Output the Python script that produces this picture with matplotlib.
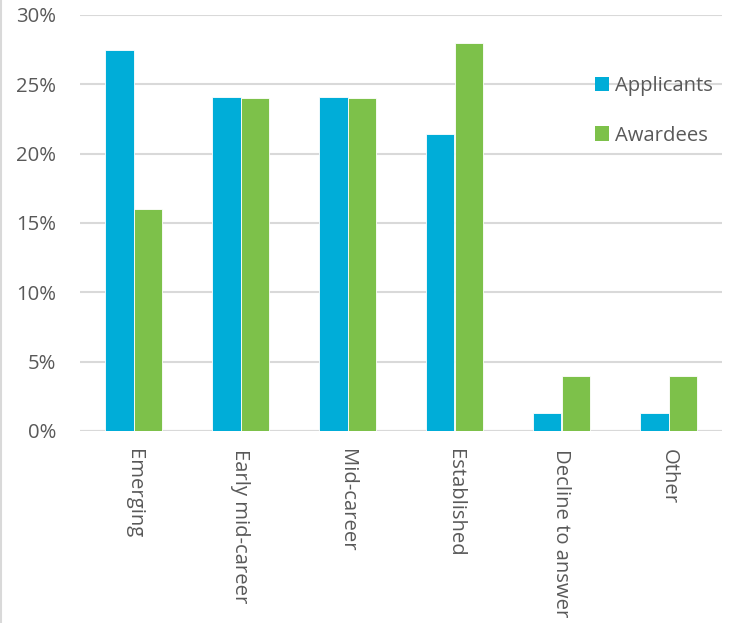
import matplotlib
matplotlib.use("Agg")
import matplotlib.pyplot as plt
from matplotlib.patches import Patch
from matplotlib.lines import Line2D
from matplotlib.ticker import FuncFormatter
import numpy as np

categories = ["Emerging", "Early mid-career", "Mid-career", "Established",
              "Decline to answer", "Other"]
applicants = [27.5, 24.1, 24.1, 21.4, 1.3, 1.3]
awardees = [16.0, 24.0, 24.0, 28.0, 4.0, 4.0]
series_names = ["Applicants", "Awardees"]
yticks = [0, 5, 10, 15, 20, 25, 30]

blue = "#00ADD8"
green = "#7DC14A"
grid_gray = "#D9D9D9"
text_gray = "#595959"

plt.rcParams["font.family"] = ["Open Sans", "DejaVu Sans"]

fig = plt.figure(figsize=(7.39, 6.23), dpi=100)
ax = fig.add_axes([80 / 739, 1 - 431 / 623, 642 / 739, 416 / 623])

x = np.arange(len(categories))
w = 0.262
ax.bar(x - w / 2, applicants, width=w, color=blue, edgecolor="white",
       linewidth=0.6, zorder=3)
ax.bar(x + w / 2, awardees, width=w, color=green, edgecolor="white",
       linewidth=0.6, zorder=3)

ax.set_xlim(-0.5, len(categories) - 0.5)
ax.set_ylim(0, 30)
ax.set_yticks(yticks)
ax.yaxis.set_major_formatter(FuncFormatter(lambda v, p: f"{v:.0f}%"))
ax.yaxis.grid(True, color=grid_gray, linewidth=1.5, zorder=0)
ax.set_axisbelow(True)
for s in ax.spines.values():
    s.set_visible(False)
ax.axhline(0, color=grid_gray, linewidth=1.5, zorder=2)

ax.set_xticks(x)
ax.set_xticklabels(categories, rotation=270, ha="center", va="top",
                   fontsize=14.6, color=text_gray)
ax.tick_params(axis="x", length=0, pad=13)
ax.tick_params(axis="y", length=0, pad=17, labelsize=14.6, labelcolor=text_gray)

handles = [Patch(facecolor=blue, edgecolor="none"),
           Patch(facecolor=green, edgecolor="none")]
fig.legend(handles, series_names, loc="upper left",
           bbox_to_anchor=(581 / 739, 1 - 62 / 623), frameon=False,
           fontsize=14.6, labelcolor=text_gray, handlelength=0.7,
           handleheight=0.7, handletextpad=0.3, labelspacing=1.45,
           borderpad=0.2)

fig.add_artist(Line2D([0.5 / 739, 0.5 / 739], [0, 1], color="#D9D9D9",
                      linewidth=1.5, transform=fig.transFigure))

fig.savefig("out.png", dpi=100)
